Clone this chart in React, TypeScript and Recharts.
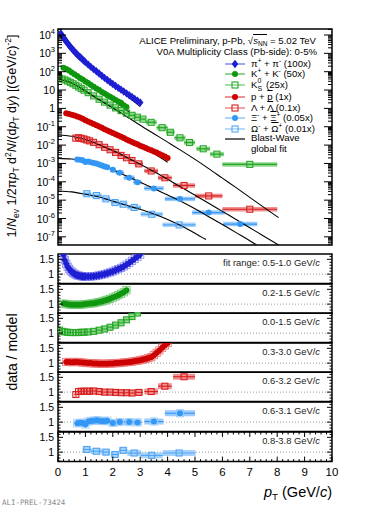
import React from 'react';
import { ComposedChart, Scatter, Line, XAxis, YAxis, ErrorBar, ReferenceLine, ReferenceArea } from 'recharts';

const FONT = '"Liberation Sans", Arial, Helvetica, sans-serif';

// pi+ + pi- (x100)
const piPt = [0.1, 0.15, 0.2, 0.25, 0.3, 0.35, 0.4, 0.45, 0.5, 0.55, 0.6, 0.65, 0.7, 0.75, 0.8, 0.85, 0.9, 0.95, 1.0, 1.1, 1.2, 1.3, 1.4, 1.5, 1.6, 1.7, 1.8, 1.9, 2.0, 2.1, 2.2, 2.3, 2.4, 2.5, 2.6, 2.7, 2.8, 2.9, 3.0];
const piYield = [1.2e4, 9.5e3, 7.4e3, 5.75e3, 4.47e3, 3.55e3, 2.82e3, 2.29e3, 1.86e3, 1.51e3, 1.26e3, 1.05e3, 871, 741, 631, 537, 457, 389, 331, 245, 182, 138, 105, 79, 60, 46, 35, 27.5, 21.4, 16.6, 13.2, 10.5, 8.3, 6.6, 5.25, 4.17, 3.3, 2.63, 2.1];
const piRatio = [2.2, 1.85, 1.65, 1.47, 1.35, 1.25, 1.18, 1.12, 1.08, 1.04, 1.01, 0.98, 0.96, 0.95, 0.94, 0.93, 0.92, 0.92, 0.92, 0.92, 0.92, 0.93, 0.94, 0.96, 0.98, 1.0, 1.03, 1.06, 1.09, 1.13, 1.17, 1.21, 1.26, 1.32, 1.38, 1.45, 1.52, 1.59, 1.66];
const piFitPt = [0.15, 0.2, 0.3, 0.4, 0.5, 0.6, 0.8, 1.0, 1.2, 1.5, 2.0, 2.4, 2.8, 3.0];
const piFit = [5.5e3, 4.47e3, 3.31e3, 2.4e3, 1.74e3, 1.26e3, 676, 363, 200, 83, 19.5, 6.6, 2.2, 1.26];

// K+ + K- (x50)
const kPt = [0.2, 0.3, 0.4, 0.5, 0.6, 0.7, 0.8, 0.9, 1.0, 1.1, 1.2, 1.3, 1.4, 1.5, 1.6, 1.7, 1.8, 1.9, 2.0, 2.1, 2.2, 2.3, 2.4, 2.5];
const kYield = [166, 141, 115, 91, 72, 58, 46, 37, 29.5, 24, 19, 15.1, 12.3, 10, 7.9, 6.5, 5.2, 4.3, 3.55, 2.9, 2.4, 2.0, 1.5, 1.2];
const kRatio = [1.02, 1.0, 0.99, 0.98, 0.98, 0.98, 0.98, 0.99, 1.0, 1.01, 1.02, 1.03, 1.05, 1.07, 1.09, 1.12, 1.15, 1.18, 1.22, 1.26, 1.3, 1.35, 1.4, 1.47];
const kFitPt = [0.2, 0.5, 1.0, 1.5, 2.0, 2.5, 2.6];
const kFit = [163, 93, 29.5, 9.3, 2.9, 0.82, 0.66];

// K0S (x25)
const k0Pt = [0.05, 0.15, 0.25, 0.35, 0.45, 0.55, 0.65, 0.75, 0.85, 0.95, 1.1, 1.3, 1.5, 1.7, 1.9, 2.1, 2.3, 2.5, 2.7, 2.9, 3.1, 3.4, 3.8, 4.1, 4.45, 4.8, 5.3, 5.8, 7.0];
const k0Yield = [42.7, 39.8, 35.5, 30.9, 26.3, 21.9, 18.2, 14.8, 12.0, 9.8, 7.2, 4.8, 3.16, 2.19, 1.51, 1.07, 0.76, 0.55, 0.42, 0.33, 0.26, 0.174, 0.089, 0.05, 0.025, 0.0138, 0.0063, 0.0032, 0.00089];
const k0Ex = [0.05, 0.05, 0.05, 0.05, 0.05, 0.05, 0.05, 0.05, 0.05, 0.05, 0.1, 0.1, 0.1, 0.1, 0.1, 0.1, 0.1, 0.1, 0.1, 0.1, 0.1, 0.2, 0.2, 0.15, 0.2, 0.2, 0.25, 0.25, 1.0];
const k0Ratio = [1.1, 1.06, 1.04, 1.03, 1.02, 1.02, 1.02, 1.02, 1.03, 1.03, 1.04, 1.06, 1.1, 1.14, 1.2, 1.27, 1.35, 1.45, 1.56, 1.68];
const k0FitPt = [0, 0.5, 1.0, 1.5, 2.0, 2.5, 3.0, 3.5, 4.0, 4.5, 5.0, 5.5, 6.0, 6.5, 7.0, 7.5, 8.05];
const k0Fit = [39.8, 24, 8.9, 2.95, 1.05, 0.363, 0.12, 0.0417, 0.0145, 0.005, 0.00166, 5.25e-4, 1.58e-4, 4.8e-5, 1.41e-5, 4.17e-6, 1.12e-6];

// p + pbar (x1)
const pPt = [0.3, 0.4, 0.5, 0.6, 0.7, 0.8, 0.9, 1.0, 1.1, 1.2, 1.3, 1.4, 1.5, 1.6, 1.7, 1.8, 1.9, 2.0, 2.1, 2.2, 2.3, 2.4, 2.5, 2.6, 2.7, 2.8, 2.9, 3.0, 3.1, 3.2, 3.3, 3.4, 3.5, 3.6, 3.7, 3.8, 3.9, 4.0];
const pYield = [0.537, 0.5, 0.457, 0.407, 0.363, 0.316, 0.269, 0.229, 0.195, 0.166, 0.141, 0.12, 0.102, 0.087, 0.074, 0.063, 0.054, 0.0457, 0.0389, 0.0331, 0.0282, 0.024, 0.0204, 0.0174, 0.0148, 0.0126, 0.011, 0.0093, 0.0081, 0.0069, 0.006, 0.0052, 0.0045, 0.0039, 0.0033, 0.0028, 0.0024, 0.002];
const pRatio = [1.04, 1.04, 1.03, 1.04, 1.04, 1.03, 1.02, 1.01, 1.0, 1.0, 0.99, 0.99, 0.98, 0.98, 0.98, 0.98, 0.99, 0.99, 1.0, 1.0, 1.01, 1.02, 1.03, 1.04, 1.05, 1.07, 1.08, 1.1, 1.12, 1.14, 1.17, 1.2, 1.27, 1.35, 1.43, 1.52, 1.6, 1.68];
const pFitPt = [0.3, 0.5, 1.0, 1.5, 2.0, 2.5, 3.0, 3.5, 4.0];
const pFit = [0.513, 0.447, 0.229, 0.105, 0.0468, 0.02, 0.0085, 0.00347, 0.00117];

// Lambda + Lambdabar (x0.1)
const lamPt = [0.65, 0.75, 0.85, 0.95, 1.05, 1.15, 1.3, 1.5, 1.7, 1.9, 2.1, 2.3, 2.5, 2.7, 2.95, 3.4, 3.9, 4.6, 5.5, 7.0];
const lamYield = [0.024, 0.0251, 0.0234, 0.0214, 0.0191, 0.017, 0.0141, 0.0105, 0.0076, 0.0056, 0.004, 0.00275, 0.00204, 0.00145, 9.5e-4, 3.9e-4, 1.66e-4, 6.3e-5, 1.7e-5, 3.2e-6];
const lamEx = [0.05, 0.05, 0.05, 0.05, 0.05, 0.05, 0.1, 0.1, 0.1, 0.1, 0.1, 0.1, 0.1, 0.1, 0.15, 0.25, 0.25, 0.4, 0.5, 1.0];
const lamRatio = [0.92, 1.02, 1.03, 1.03, 1.03, 1.03, 1.04, 1.02, 1.0, 1.0, 0.99, 0.98, 0.98, 0.97, 0.99, 1.02, 1.2, 1.52];
const lamFitPt = [0, 0.5, 1, 1.5, 2, 2.5, 3, 3.5, 4, 4.5, 5, 5.5, 6, 6.5, 7, 7.5, 8.05];
const lamFit = [0.0355, 0.0302, 0.02, 0.0105, 0.005, 0.00219, 9.1e-4, 3.63e-4, 1.38e-4, 5.0e-5, 1.86e-5, 6.8e-6, 2.45e-6, 8.9e-7, 3.16e-7, 1.12e-7, 3.63e-8];

// Xi- + Xibar+ (x0.05)
const xiPt = [0.7, 0.8, 0.9, 1.0, 1.1, 1.2, 1.3, 1.4, 1.5, 1.6, 1.7, 1.8, 2.0, 2.25, 2.6, 2.9, 3.5, 4.45, 5.5, 6.65];
const xiYield = [1.66e-3, 1.58e-3, 1.48e-3, 1.2e-3, 1.26e-3, 1.17e-3, 1.07e-3, 9.8e-4, 8.7e-4, 7.8e-4, 6.9e-4, 6.3e-4, 4.5e-4, 3.16e-4, 1.66e-4, 9.5e-5, 4.37e-5, 1.17e-5, 2.1e-6, 5.0e-7];
const xiEx = [0.05, 0.05, 0.05, 0.05, 0.05, 0.05, 0.05, 0.05, 0.05, 0.05, 0.05, 0.05, 0.1, 0.15, 0.2, 0.15, 0.35, 0.55, 0.6, 0.62];
const xiRatio = [0.96, 0.98, 0.97, 0.92, 1.02, 1.04, 1.05, 1.06, 1.05, 1.04, 1.03, 1.05, 0.97, 1.0, 1.0, 0.99, 1.02, 1.3];
const xiFitPt = [0, 0.5, 1, 1.5, 2, 2.5, 3, 3.5, 4, 4.5, 5, 5.5, 6, 6.5, 7, 7.25];
const xiFit = [1.9e-3, 1.74e-3, 1.32e-3, 8.7e-4, 4.57e-4, 2.09e-4, 9.5e-5, 4.27e-5, 1.9e-5, 8.5e-6, 3.4e-6, 1.26e-6, 4.7e-7, 1.7e-7, 6.2e-8, 3.63e-8];

// Omega- + Omegabar+ (x0.01)
const omPt = [1.05, 1.4, 1.75, 2.08, 2.38, 2.78, 3.42, 4.42];
const omYield = [2.24e-5, 1.78e-5, 1.17e-5, 7.4e-6, 6.0e-6, 4.0e-6, 1.7e-6, 4.5e-7];
const omEx = [0.15, 0.2, 0.15, 0.15, 0.15, 0.25, 0.4, 0.6];
const omRatio = [1.09, 1.03, 1.0, 0.92, 1.06, 0.97, 0.89, 0.97];
const omFitPt = [0, 0.5, 1, 1.5, 2, 2.5, 3, 3.5, 4, 4.5, 5, 5.4];
const omFit = [3.16e-5, 2.82e-5, 2.09e-5, 1.48e-5, 8.9e-6, 5.25e-6, 3.16e-6, 1.74e-6, 8.9e-7, 4.0e-7, 1.58e-7, 7.1e-8];

const fitRanges = ['fit range: 0.5-1.0', '0.2-1.5', '0.0-1.5', '0.3-3.0', '0.6-3.2', '0.6-3.1', '0.8-3.8'];

// axis ticks
const xLabels = [0, 1, 2, 3, 4, 5, 6, 7, 8, 9, 10];
const xTicks = Array.from({ length: 51 }, (_, i) => Math.round(i * 2) / 10);
const logMajor = [1e-7, 1e-6, 1e-5, 1e-4, 1e-3, 1e-2, 1e-1, 1, 10, 100, 1e3, 1e4];
const logMinorSteps = [2, 3, 4, 5, 6, 7, 8, 9];
const ratioTicks = [0.7, 0.8, 0.9, 1, 1.1, 1.2, 1.3, 1.4, 1.5, 1.6];
const ratioLabels = [1, 1.5];

// geometry (px)
const W = 374;
const PL = 58;
const PR = 332;
const PW = PR - PL;
const TOP_T = 29;
const TOP_B = 245;
const TOP_H = TOP_B - TOP_T;
const Y_MIN = 3.6e-8;
const Y_MAX = 2.12e4;
const R_T0 = 254;
const R_H = 29.6;
const R_MIN = 0.68;
const R_MAX = 1.68;
const FRAME = 1.5;

const logTicks = [
  ...logMajor,
  ...logMajor.flatMap((d) => logMinorSteps.map((m) => m * d)),
  ...logMinorSteps.map((m) => m * 1e-8),
].filter((v) => v >= Y_MIN && v <= Y_MAX).sort((a, b) => a - b);

const pts = (x: number[], y: number[], ex?: number[]) =>
  y.map((v, i) => ({ x: x[i], y: v, ex: ex ? ex[i] : 0 }));

const SPECIES = [
  { pt: piPt, val: piYield, ex: undefined, ratio: piRatio, fitPt: piFitPt, fit: piFit, kind: 'diamond', color: '#1e1ed2', light: '#8f8ff2' },
  { pt: kPt, val: kYield, ex: undefined, ratio: kRatio, fitPt: kFitPt, fit: kFit, kind: 'circle', color: '#0f960f', light: '#72c872' },
  { pt: k0Pt, val: k0Yield, ex: k0Ex, ratio: k0Ratio, fitPt: k0FitPt, fit: k0Fit, kind: 'square', color: '#25a825', light: '#8fd68f' },
  { pt: pPt, val: pYield, ex: undefined, ratio: pRatio, fitPt: pFitPt, fit: pFit, kind: 'circle', color: '#cc0000', light: '#ee7777' },
  { pt: lamPt, val: lamYield, ex: lamEx, ratio: lamRatio, fitPt: lamFitPt, fit: lamFit, kind: 'square', color: '#d82020', light: '#f09090' },
  { pt: xiPt, val: xiYield, ex: xiEx, ratio: xiRatio, fitPt: xiFitPt, fit: xiFit, kind: 'circle', color: '#3397f5', light: '#9ccbfa' },
  { pt: omPt, val: omYield, ex: omEx, ratio: omRatio, fitPt: omFitPt, fit: omFit, kind: 'square', color: '#4ea4f5', light: '#a8d2fa' },
];

function Marker({ cx, cy, kind, color }: { cx?: number; cy?: number; kind: string; color: string }) {
  if (cx == null || cy == null || isNaN(cx) || isNaN(cy)) return null;
  if (kind === 'diamond') {
    return <path d={`M${cx},${cy - 4.2} L${cx + 3.3},${cy} L${cx},${cy + 4.2} L${cx - 3.3},${cy} Z`} fill={color} />;
  }
  if (kind === 'circle') return <circle cx={cx} cy={cy} r={3} fill={color} />;
  return <rect x={cx - 3} y={cy - 3} width={6} height={6} fill="none" stroke={color} strokeWidth={1.1} />;
}

const BoxShape = ({ cx, cy, color }: { cx?: number; cy?: number; color: string }) =>
  cx == null || cy == null ? null : (
    <rect x={cx - 3.6} y={cy - 3.6} width={7.2} height={7.2} fill="none" stroke={color} strokeWidth={0.9} />
  );

const makeXTick = (plotH: number, labels: boolean, major: number, minor: number) => (p: any) => {
  const v = p.payload.value;
  const isMajor = xLabels.includes(v);
  const len = isMajor ? major : minor;
  return (
    <g>
      <line x1={p.x} x2={p.x} y1={p.y} y2={p.y - len} stroke="#000" strokeWidth={1} />
      <line x1={p.x} x2={p.x} y1={p.y - plotH} y2={p.y - plotH + len} stroke="#000" strokeWidth={1} />
      {labels && isMajor ? (
        <text x={p.x} y={p.y + 14} textAnchor="middle" fontSize={11.5} fontFamily={FONT} fill="#000">
          {String(v)}
        </text>
      ) : null}
    </g>
  );
};

const logTick = (p: any) => {
  const v = p.payload.value;
  const e = Math.round(Math.log10(v));
  const isMajor = logMajor.includes(v);
  const len = isMajor ? 8 : 4;
  return (
    <g>
      <line x1={p.x} x2={p.x + len} y1={p.y} y2={p.y} stroke="#000" strokeWidth={1} />
      <line x1={p.x + PW - len} x2={p.x + PW} y1={p.y} y2={p.y} stroke="#000" strokeWidth={1} />
      {isMajor && (
        <text x={p.x - 3} y={p.y + 4} textAnchor="end" fontSize={10.5} fontFamily={FONT} fill="#000">
          {e === 0 ? '1' : e === 1 ? '10' : (
            <>
              10
              <tspan dy={-5} fontSize={7.5}>{e}</tspan>
            </>
          )}
        </text>
      )}
    </g>
  );
};

const ratioTick = (p: any) => {
  const v = p.payload.value;
  const isMajor = ratioLabels.includes(v);
  const len = isMajor ? 5 : 2.5;
  return (
    <g>
      <line x1={p.x} x2={p.x + len} y1={p.y} y2={p.y} stroke="#000" strokeWidth={1} />
      <line x1={p.x + PW - len} x2={p.x + PW} y1={p.y} y2={p.y} stroke="#000" strokeWidth={1} />
      {isMajor && (
        <text x={p.x - 4} y={p.y + 3.6} textAnchor="end" fontSize={10.5} fontFamily={FONT} fill="#000">
          {v}
        </text>
      )}
    </g>
  );
};

function SpectraPanel() {
  return (
    <ComposedChart width={W} height={TOP_B + 1} margin={{ top: TOP_T, right: W - PR, bottom: 1, left: 0 }}>
      <XAxis type="number" dataKey="x" domain={[0, 10]} ticks={xTicks} interval={0} height={0}
        tickSize={0} tickMargin={0} axisLine={false} tickLine={false} allowDataOverflow
        tick={makeXTick(TOP_H, false, 7, 3.5)} />
      <YAxis type="number" dataKey="y" scale="log" domain={[Y_MIN, Y_MAX]} ticks={logTicks} interval={0}
        width={PL} tickSize={0} tickMargin={0} axisLine={false} tickLine={false} allowDataOverflow tick={logTick} />
      {SPECIES.map((s, i) => (
        <Scatter key={'s' + i} data={pts(s.pt, s.val, s.ex)} isAnimationActive={false}
          shape={(p: any) => <Marker cx={p.cx} cy={p.cy} kind={s.kind} color={s.color} />}>
          <ErrorBar dataKey="ex" direction="x" width={0} stroke={s.light} strokeWidth={4.5} />
          <ErrorBar dataKey="ex" direction="x" width={0} stroke={s.color} strokeWidth={1.2} />
        </Scatter>
      ))}
      {SPECIES.map((s, i) => (
        <Line key={'f' + i} data={pts(s.fitPt, s.fit)} dataKey="y" type="monotone" stroke="#000" strokeWidth={1.1}
          dot={false} activeDot={false} isAnimationActive={false} />
      ))}
      <ReferenceArea x1={0} x2={10} y1={Y_MIN} y2={Y_MAX} fill="none" stroke="#000" strokeWidth={FRAME} />
    </ComposedChart>
  );
}

function RatioPanel({ idx }: { idx: number }) {
  const s = SPECIES[idx];
  const last = idx === SPECIES.length - 1;
  const axisH = last ? 24 : 0;
  const data = pts(s.pt, s.ratio, s.ex);
  const filled = s.kind !== 'square';
  return (
    <ComposedChart width={W} height={R_H + 2 + axisH} margin={{ top: 1, right: W - PR, bottom: 1, left: 0 }}>
      <XAxis type="number" dataKey="x" domain={[0, 10]} ticks={xTicks} interval={0} height={axisH}
        tickSize={0} tickMargin={0} axisLine={false} tickLine={false} allowDataOverflow
        tick={makeXTick(R_H, last, 5, 2.5)} />
      <YAxis type="number" dataKey="y" domain={[R_MIN, R_MAX]} ticks={ratioTicks} interval={0}
        width={PL} tickSize={0} tickMargin={0} axisLine={false} tickLine={false} allowDataOverflow tick={ratioTick} />
      <ReferenceLine y={1} stroke="#9a9a9a" strokeDasharray="1 2" strokeWidth={1} />
      {filled && (
        <Scatter data={data} isAnimationActive={false}
          shape={(p: any) => <BoxShape cx={p.cx} cy={p.cy} color={s.light} />} />
      )}
      <Scatter data={data} isAnimationActive={false}
        shape={(p: any) => <Marker cx={p.cx} cy={p.cy} kind={s.kind} color={s.color} />}>
        <ErrorBar dataKey="ex" direction="x" width={0} stroke={s.light} strokeWidth={6} />
        <ErrorBar dataKey="ex" direction="x" width={0} stroke={s.color} strokeWidth={1.1} />
      </Scatter>
      <ReferenceArea x1={0} x2={10} y1={R_MIN} y2={R_MAX} fill="none" stroke="#000" strokeWidth={FRAME} />
    </ComposedChart>
  );
}

const sup = { fontSize: '0.68em', verticalAlign: '0.55em', lineHeight: 0 } as const;
const sub = { fontSize: '0.68em', verticalAlign: '-0.35em', lineHeight: 0 } as const;
const bar = { textDecoration: 'overline' } as const;

const legendRows = [
  { cy: 63.5, label: <>π<span style={sup}>+</span> + π<span style={sup}>-</span> (100x)</> },
  { cy: 74, label: <>K<span style={sup}>+</span> + K<span style={sup}>-</span> (50x)</> },
  { cy: 85, label: <>K<span style={{ display: 'inline-block', position: 'relative', width: 6, height: 8 }}><span style={{ position: 'absolute', left: 0, top: -5, fontSize: 7 }}>0</span><span style={{ position: 'absolute', left: 0, top: 3, fontSize: 7 }}>S</span></span> (25x)</> },
  { cy: 96.5, label: <>p + <span style={bar}>p</span> (1x)</> },
  { cy: 107.5, label: <>Λ + <span style={bar}>Λ</span> (0.1x)</> },
  { cy: 118, label: <>Ξ<span style={sup}>-</span> + <span style={bar}>Ξ</span><span style={sup}>+</span> (0.05x)</> },
  { cy: 128.5, label: <>Ω<span style={sup}>-</span> + <span style={bar}>Ω</span><span style={sup}>+</span> (0.01x)</> },
];

const abs = (left: number, top: number, extra: React.CSSProperties = {}): React.CSSProperties => ({
  position: 'absolute', left, top, whiteSpace: 'nowrap', ...extra,
});

export default function App() {
  return (
    <div style={{ position: 'absolute', left: 0, top: 0, width: W, height: 508, background: '#fff', fontFamily: FONT, color: '#000', overflow: 'hidden' }}>
      <div style={abs(0, 0)}>
        <SpectraPanel />
      </div>
      {SPECIES.map((_, i) => (
        <div key={i} style={abs(0, R_T0 + i * R_H - 1)}>
          <RatioPanel idx={i} />
        </div>
      ))}

      {/* header text */}
      <div style={{ position: 'absolute', right: W - 316, top: 35, fontSize: 9.6, lineHeight: '11px', whiteSpace: 'nowrap', textAlign: 'right' }}>
        ALICE Preliminary, p-Pb, √<span style={{ borderTop: '0.8px solid #000' }}><i>s</i><span style={sub}>NN</span></span> = 5.02 TeV
      </div>
      <div style={{ position: 'absolute', right: W - 317, top: 46, fontSize: 9.6, lineHeight: '11px', whiteSpace: 'nowrap', textAlign: 'right' }}>
        V0A Multiplicity Class (Pb-side): 0-5%
      </div>

      {/* legend */}
      {legendRows.map((r, i) => {
        const s = SPECIES[i];
        return (
          <div key={i} style={abs(224, r.cy - 6, { height: 12, fontSize: 9.6, lineHeight: '12px' })}>
            <svg width={22} height={12} style={{ position: 'absolute', left: 0, top: 0 }}>
              <line x1={1} x2={21} y1={6} y2={6} stroke={s.light} strokeWidth={1.6} />
              <Marker cx={11} cy={6} kind={s.kind} color={s.color} />
            </svg>
            <span style={{ position: 'absolute', left: 27, top: 0 }}>{r.label}</span>
          </div>
        );
      })}
      <div style={abs(224, 133, { fontSize: 9.6, lineHeight: '10.5px' })}>
        <svg width={22} height={12} style={{ position: 'absolute', left: 0, top: 0 }}>
          <line x1={1} x2={21} y1={6} y2={6} stroke="#000" strokeWidth={1.2} />
        </svg>
        <div style={{ position: 'absolute', left: 27, top: 0 }}>Blast-Wave<br />global fit</div>
      </div>

      {/* ratio panel labels */}
      {fitRanges.map((t, i) => (
        <div key={i} style={{ position: 'absolute', right: W - 320, top: R_T0 + i * R_H + 3, fontSize: 9.4, lineHeight: '11px', whiteSpace: 'nowrap', color: '#222' }}>
          {t} GeV/<i>c</i>
        </div>
      ))}

      {/* axis titles */}
      <div style={abs(12, 136, { transform: 'translate(-50%, -50%) rotate(-90deg)', fontSize: 12.5, lineHeight: '14px' })}>
        1/<i>N</i><span style={sub}>ev</span> 1/2π<i>p</i><span style={sub}>T</span> d<span style={sup}>2</span><i>N</i>/(d<i>p</i><span style={sub}>T</span> d<i>y</i>) [(GeV/<i>c</i>)<span style={sup}>-2</span>]
      </div>
      <div style={abs(12, 352, { transform: 'translate(-50%, -50%) rotate(-90deg)', fontSize: 14, lineHeight: '16px' })}>
        data / model
      </div>
      <div style={{ position: 'absolute', right: W - 332, top: 484, fontSize: 14.5, lineHeight: '16px', whiteSpace: 'nowrap' }}>
        <i>p</i><span style={sub}>T</span> (GeV/<i>c</i>)
      </div>
      <div style={abs(2, 498, { fontSize: 7.5, fontFamily: '"DejaVu Sans Mono", monospace', color: '#8a8a8a', lineHeight: '9px' })}>
        ALI-PREL-73424
      </div>
    </div>
  );
}
